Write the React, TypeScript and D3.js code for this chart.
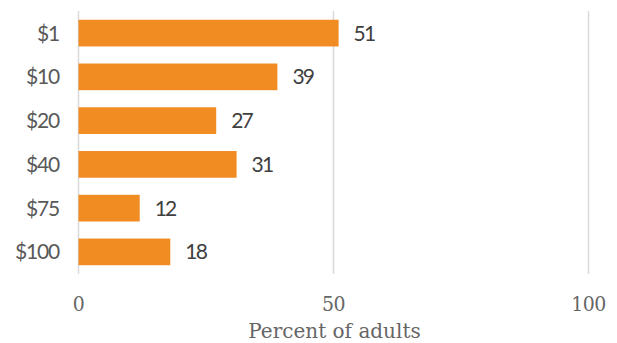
import React from "react";
import * as d3 from "d3";

const categories = ["$1", "$10", "$20", "$40", "$75", "$100"];
const values = [51, 39, 27, 31, 12, 18];
const ticks = [0, 50, 100];
const axisTitle = "Percent of adults";

export default function App() {
  const W = 617, H = 343;
  const x = d3.scaleLinear().domain([0, 100]).range([78.5, 588.5]);
  const y = d3.scaleBand().domain(categories).range([11, 274]).paddingInner(0.39).paddingOuter(0.2);
  const slab = "'DejaVu Serif', serif";
  const slabC = "'DejaVu Serif Condensed', 'DejaVu Serif', serif";
  const sans = "Lato, 'Open Sans', sans-serif";
  return (
    <svg width={W} height={H} style={{ position: "absolute", left: 0, top: 0 }}>
      <rect width={W} height={H} fill="#fff" />
      {ticks.map((t) => (
        <line key={t} x1={x(t)} x2={x(t)} y1={11} y2={274} stroke="#d9d9d9" strokeWidth={1.5} />
      ))}
      {categories.map((c, i) => (
        <g key={c}>
          <rect x={x(0)} y={y(c)!} width={x(values[i]) - x(0)} height={y.bandwidth()} fill="#F08C22" />
          <text x={59} y={y(c)! + y.bandwidth() / 2} dy="0.36em" textAnchor="end" fontFamily={sans} fontSize={21} letterSpacing={-1.2} fill="#595959">
            {c}
          </text>
          <text x={x(values[i]) + 15} y={y(c)! + y.bandwidth() / 2} dy="0.36em" fontFamily={sans} fontSize={21} letterSpacing={-1.8} fill="#404040">
            {values[i]}
          </text>
        </g>
      ))}
      {ticks.map((t) => (
        <text key={t} x={x(t)} y={311} textAnchor="middle" fontFamily={slabC} fontSize={21} fill="#666" letterSpacing={-0.5}>
          {t}
        </text>
      ))}
      <text x={x(50) + 1} y={338} textAnchor="middle" fontFamily={slab} fontSize={20} fill="#666">
        {axisTitle}
      </text>
    </svg>
  );
}
